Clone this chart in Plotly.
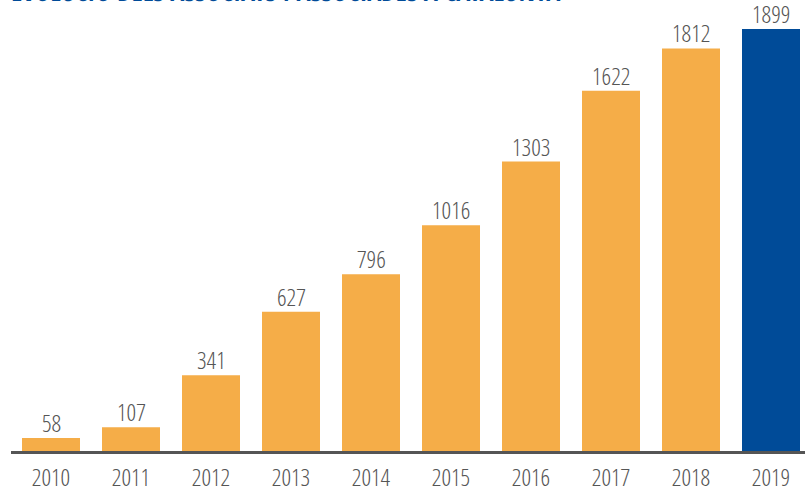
import plotly.graph_objects as go

# Associats i associades a Catalunya, per any
years = ["2010", "2011", "2012", "2013", "2014", "2015", "2016", "2017", "2018", "2019"]
members = [58, 107, 341, 627, 796, 1016, 1303, 1622, 1812, 1899]

ORANGE = "#F5AD48"
BLUE = "#004B98"
GREY = "#555555"
FONT = "Open Sans Condensed Light, Open Sans Condensed, DejaVu Sans Condensed, sans-serif"
TITLE_FONT = "Open Sans Condensed, DejaVu Sans Condensed, sans-serif"

colors = [ORANGE] * (len(years) - 1) + [BLUE]

label_font = dict(family=FONT, size=24, color=GREY, weight=300)

fig = go.Figure(
    go.Bar(
        x=years,
        y=members,
        marker=dict(color=colors, line=dict(width=0)),
        hoverinfo="x+y",
    )
)

# value labels sitting just above each bar (category index on the x axis)
for i, val in enumerate(members):
    fig.add_annotation(
        x=i, y=val, text=str(val),
        xref="x", yref="y",
        xanchor="center", yanchor="bottom",
        yshift=-3,
        showarrow=False,
        font=label_font,
    )

fig.add_annotation(
    text="<b><i>EVOLUCIÓ DELS ASSOCIATS I ASSOCIADES A CATALUNYA</i></b>",
    xref="paper", yref="paper", x=0, y=1,
    xanchor="left", yanchor="middle",
    xshift=-2, yshift=9,
    showarrow=False,
    font=dict(family=TITLE_FONT, size=26, color=BLUE),
)

fig.update_layout(
    width=805, height=489,
    margin=dict(l=11, r=0, t=0, b=38, autoexpand=False),
    paper_bgcolor="white", plot_bgcolor="white",
    bargap=0.275,
    showlegend=False,
    xaxis=dict(
        type="category",
        range=[-0.5, 9.425],
        automargin=False,
        showline=True, linecolor=GREY, linewidth=2.5,
        ticks="", showgrid=False,
        tickfont=label_font,
        ticklabelstandoff=3,
    ),
    yaxis=dict(
        range=[0, 2030],
        visible=False, showgrid=False, zeroline=False,
    ),
)

fig.write_html("out.html")
